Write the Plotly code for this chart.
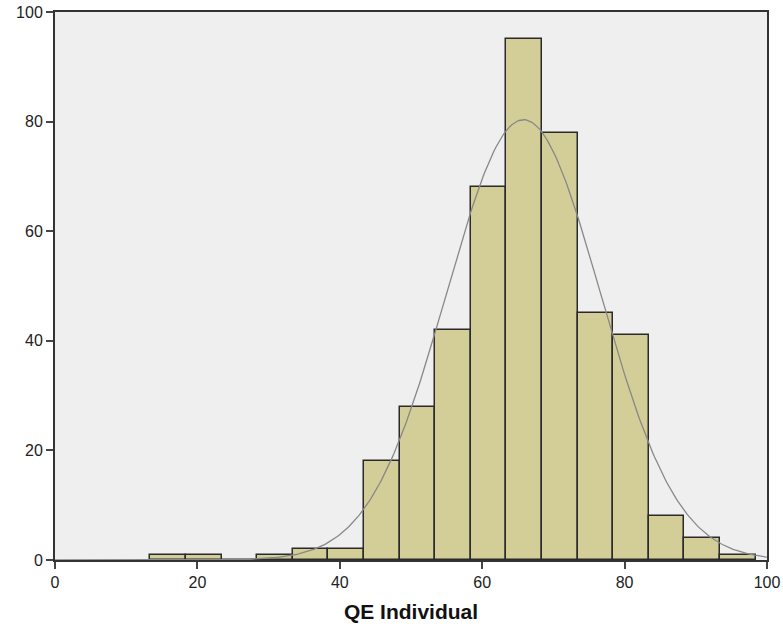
import numpy as np
import plotly.graph_objects as go

# Histogram data (bin left edges, width 5)
bin_starts = [13.4, 18.4, 23.4, 28.4, 33.4, 38.4, 43.4, 48.4, 53.4, 58.4, 63.4, 68.4, 73.4, 78.4, 83.4, 88.4, 93.4]
counts = [1, 1, 0, 1, 2, 2, 18, 28, 42, 68, 95, 78, 45, 41, 8, 4, 1]
bin_width = 5.0

# Normal curve parameters (estimated)
curve_mean = 65.8
curve_sd = 10.8

x_ticks = [0, 20, 40, 60, 80, 100]
y_ticks = [0, 20, 40, 60, 80, 100]

n_total = sum(counts)
centers = [s + bin_width / 2 for s in bin_starts]

fig = go.Figure()
fig.add_trace(go.Bar(
    x=centers, y=counts, width=bin_width,
    marker=dict(color="#d3ce97", line=dict(color="#2a2a2a", width=1.5)),
    hoverinfo="x+y",
))

xs = np.linspace(0, 100, 400)
ys = n_total * bin_width / (curve_sd * np.sqrt(2 * np.pi)) * np.exp(-0.5 * ((xs - curve_mean) / curve_sd) ** 2)
fig.add_trace(go.Scatter(x=xs, y=ys, mode="lines", line=dict(color="#888888", width=1.3), hoverinfo="skip"))

fig.update_layout(
    width=783, height=627,
    margin=dict(l=55, r=16, t=12, b=67),
    paper_bgcolor="white", plot_bgcolor="#efefef",
    showlegend=False, bargap=0,
    font=dict(family="Arial, Liberation Sans, sans-serif", color="#222222"),
)
fig.update_xaxes(
    range=[0, 100], tickvals=x_ticks, ticks="outside", ticklen=7, tickwidth=1.5, tickcolor="#444444",
    showgrid=False, zeroline=False, showline=True, linecolor="#333333", linewidth=2, mirror=True,
    tickfont=dict(size=16, color="#222222"), automargin=False,
    title=dict(text="<b>QE Individual</b>", font=dict(size=21, color="#111111"), standoff=14),
)
fig.update_yaxes(
    range=[0, 100], tickvals=y_ticks, ticks="outside", ticklen=7, tickwidth=1.5, tickcolor="#444444",
    showgrid=False, zeroline=False, showline=True, linecolor="#333333", linewidth=2, mirror=True,
    tickfont=dict(size=16, color="#222222"), automargin=False,
)

fig.write_html("out.html")
